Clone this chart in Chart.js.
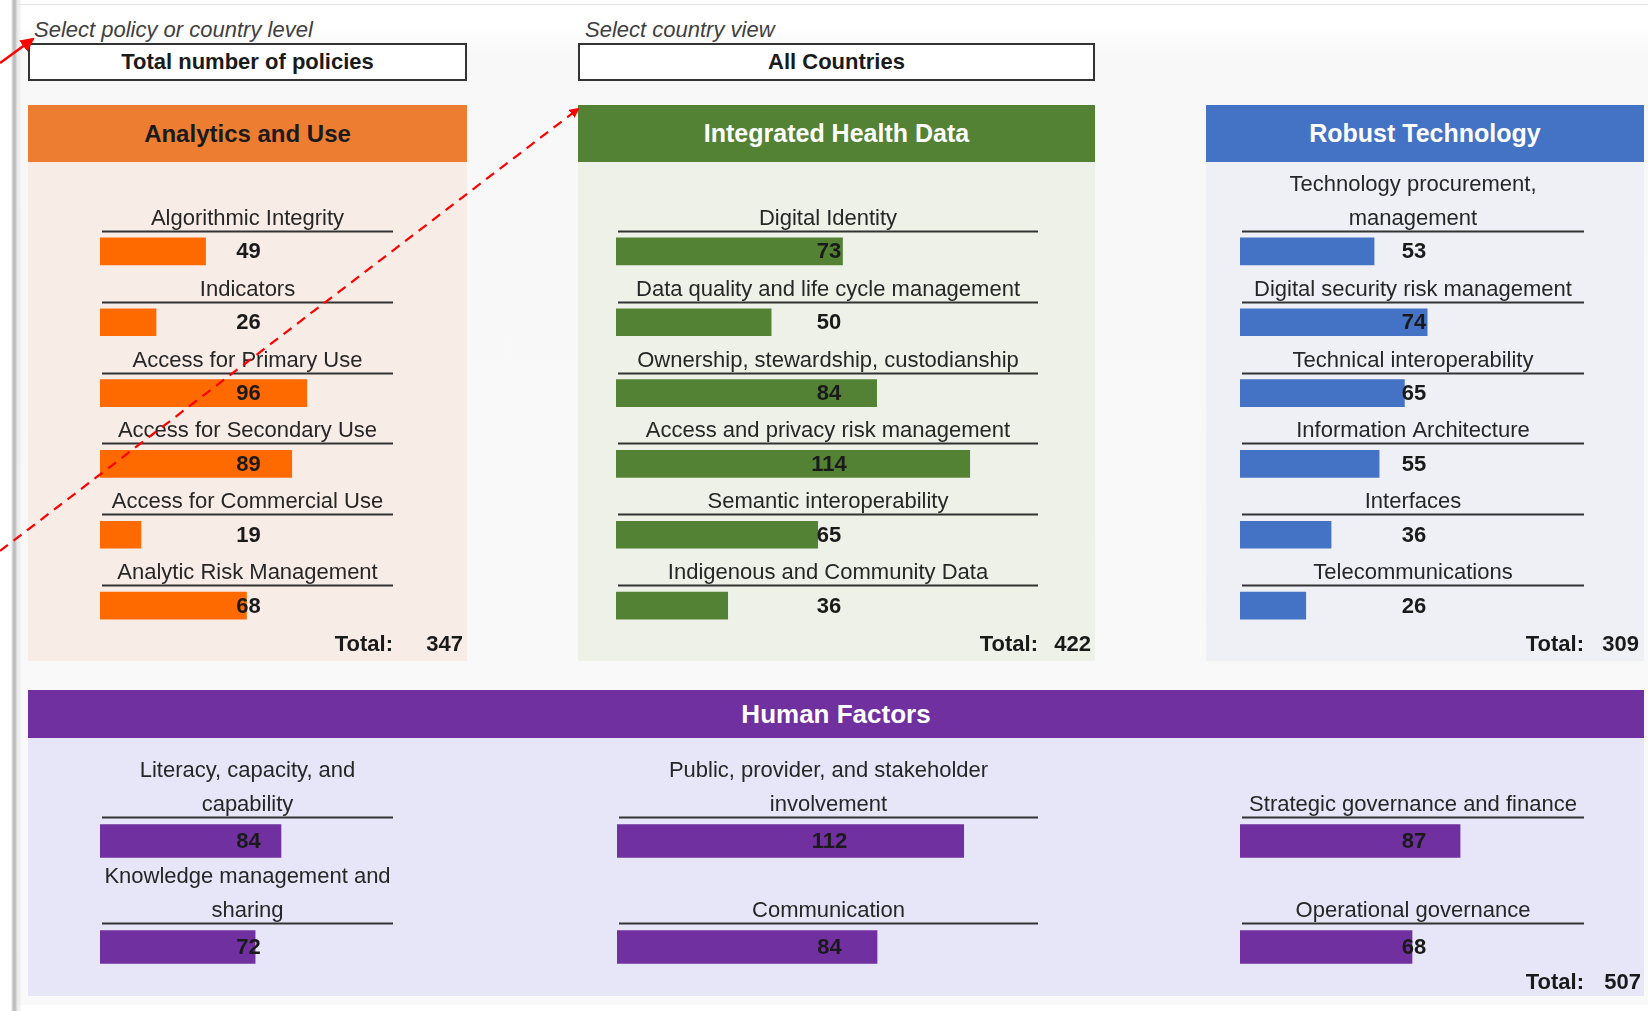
<!DOCTYPE html>
<html>
<head>
<meta charset="utf-8">
<script src="https://cdn.jsdelivr.net/npm/chart.js@4.4.1/dist/chart.umd.min.js"></script>
<style>
  body { margin: 0; width: 1652px; height: 1011px; background: #fff; position: relative; overflow: hidden;
         font-family: "Liberation Sans", Arial, sans-serif; color: #1a1a1a; }
  .abs { position: absolute; }
  .sheet { left: 16px; top: 4px; width: 1632px; height: 1000px; border-top: 1px solid #e4e4e4;
           background: linear-gradient(#ffffff 0px, #ffffff 22px, #f8f8f8 48px, #f9f9f9 100%); }
  .edge { left: 0; top: 0; width: 22px; height: 1011px;
          background: linear-gradient(90deg, #fff 0px, #fff 11px, #c4c4c4 13px, #b8b8b8 15px, #e6e6e6 17px, rgba(255,255,255,0) 22px); }
  .hint { font-style: italic; font-size: 22px; color: #404040; }
  .box { border: 2px solid #333; background: #fff; font-weight: bold; font-size: 22px; text-align: center;
         box-sizing: border-box; line-height: 34px; }
  .head { font-weight: bold; text-align: center; box-sizing: border-box; }
  .total { font-weight: bold; font-size: 22px; line-height: 26px; }
  canvas { position: absolute; }
</style>
</head>
<body>
<div class="abs sheet"></div>
<div class="abs edge"></div>

<div class="abs hint" style="left:34px; top:17px;">Select policy or country level</div>
<div class="abs hint" style="left:585px; top:17px;">Select country view</div>
<div class="abs box" style="left:28px; top:43px; width:439px; height:38px;">Total number of policies</div>
<div class="abs box" style="left:578px; top:43px; width:517px; height:38px;">All Countries</div>

<!-- panel backgrounds -->
<div class="abs" style="left:28px; top:162px; width:439px; height:499px; background:#f8ece6;"></div>
<div class="abs" style="left:578px; top:162px; width:517px; height:499px; background:#edf1e8;"></div>
<div class="abs" style="left:1206px; top:162px; width:438px; height:499px; background:#eef0f6;"></div>
<div class="abs" style="left:28px; top:738px; width:1616px; height:258px; background:#e6e6f8;"></div>

<div class="abs head" style="left:28px; top:105px; width:439px; height:57px; background:#ed7d31; color:#1a1a1a; font-size:24px; line-height:57px;">Analytics and Use</div>
<div class="abs head" style="left:578px; top:105px; width:517px; height:57px; background:#548235; color:#fff; font-size:25px; line-height:57px;">Integrated Health Data</div>
<div class="abs head" style="left:1206px; top:105px; width:438px; height:57px; background:#4472c4; color:#fff; font-size:25px; line-height:57px;">Robust Technology</div>
<div class="abs head" style="left:28px; top:690px; width:1616px; height:48px; background:#7030a0; color:#fff; font-size:26px; line-height:48px;">Human Factors</div>

<canvas id="cAnalytics" width="439" height="498" style="left:28px; top:162px;"></canvas>
<canvas id="cHealth" width="517" height="498" style="left:578px; top:162px;"></canvas>
<canvas id="cTech" width="438" height="498" style="left:1206px; top:162px;"></canvas>
<canvas id="cHumanLeft" width="439" height="262" style="left:28px; top:738px;"></canvas>
<canvas id="cHumanMid" width="517" height="262" style="left:578px; top:738px;"></canvas>
<canvas id="cHumanRight" width="438" height="262" style="left:1206px; top:738px;"></canvas>

<div id="totals"></div>

<svg class="abs" style="left:0; top:0;" width="1652" height="1011">
  <defs>
    <marker id="head" markerWidth="10" markerHeight="10" refX="8" refY="5" orient="auto" markerUnits="userSpaceOnUse">
      <path d="M0,0 L10,5 L0,10 z" fill="#ff0000"/>
    </marker>
    <marker id="head2" markerWidth="14" markerHeight="14" refX="12" refY="7" orient="auto" markerUnits="userSpaceOnUse">
      <path d="M0,0 L14,7 L0,14 z" fill="#ff0000"/>
    </marker>
  </defs>
  <line x1="0" y1="63" x2="33" y2="39" stroke="#ff0000" stroke-width="2.5" marker-end="url(#head2)"/>
  <line x1="0" y1="551" x2="578" y2="109" stroke="#ff0000" stroke-width="2.2" stroke-dasharray="10 7" marker-end="url(#head)"/>
</svg>

<script>
// Category names and counts
const analyticsLabels = ['Algorithmic Integrity', 'Indicators', 'Access for Primary Use',
    'Access for Secondary Use', 'Access for Commercial Use', 'Analytic Risk Management'];
const analyticsValues = [49, 26, 96, 89, 19, 68];

const healthLabels = ['Digital Identity', 'Data quality and life cycle management',
    'Ownership, stewardship, custodianship', 'Access and privacy risk management',
    'Semantic interoperability', 'Indigenous and Community Data'];
const healthValues = [73, 50, 84, 114, 65, 36];

const techLabels = [['Technology procurement,', 'management'], 'Digital security risk management',
    'Technical interoperability', 'Information Architecture', 'Interfaces', 'Telecommunications'];
const techValues = [53, 74, 65, 55, 36, 26];

const humanLeftLabels = [['Literacy, capacity, and', 'capability'], ['Knowledge management and', 'sharing']];
const humanLeftValues = [84, 72];
const humanMidLabels = [['Public, provider, and stakeholder', 'involvement'], 'Communication'];
const humanMidValues = [112, 84];
const humanRightLabels = ['Strategic governance and finance', 'Operational governance'];
const humanRightValues = [87, 68];

const axisMax = 136;

// draws the centred label + underline above each bar and the count on top of it
const rowText = {
    id: 'rowText',
    afterDatasetsDraw(chart, args, opts) {
        const ctx = chart.ctx;
        const area = chart.chartArea;
        const cx = (area.left + area.right) / 2;
        const meta = chart.getDatasetMeta(0);
        ctx.save();
        ctx.textAlign = 'center';
        ctx.textBaseline = 'middle';
        meta.data.forEach((bar, i) => {
            const yLine = Math.round(bar.y - opts.underline) + 0.5;
            ctx.strokeStyle = '#333';
            ctx.lineWidth = 2;
            ctx.beginPath();
            ctx.moveTo(area.left + 2, yLine);
            ctx.lineTo(area.right, yLine);
            ctx.stroke();

            const lab = chart.data.labels[i];
            const lines = Array.isArray(lab) ? lab : [lab];
            ctx.fillStyle = '#262626';
            ctx.font = '22px "Liberation Sans", Arial, sans-serif';
            lines.slice().reverse().forEach((t, k) => {
                ctx.fillText(t, cx + 1, yLine - 13 - k * 34);
            });

            ctx.fillStyle = '#1a1a1a';
            ctx.font = 'bold 22px "Liberation Sans", Arial, sans-serif';
            ctx.fillText(String(chart.data.datasets[0].data[i]), cx + 2, bar.y + 1);
        });
        ctx.restore();
    }
};

function drawPanel(id, labels, values, color, padding, thickness, underline) {
    return new Chart(document.getElementById(id), {
        type: 'bar',
        data: {
            labels: labels,
            datasets: [{
                data: values,
                backgroundColor: color,
                borderWidth: 0,
                barThickness: thickness
            }]
        },
        options: {
            indexAxis: 'y',
            responsive: false,
            animation: false,
            layout: { padding: padding },
            plugins: {
                legend: { display: false },
                tooltip: { enabled: false },
                rowText: { underline: underline }
            },
            scales: {
                x: { display: false, min: 0, max: axisMax },
                y: { display: false }
            }
        },
        plugins: [rowText]
    });
}

drawPanel('cAnalytics', analyticsLabels, analyticsValues, '#ff6a00',
    { left: 72, right: 74, top: 54, bottom: 19 }, 27, 20.5);
drawPanel('cHealth', healthLabels, healthValues, '#548235',
    { left: 38, right: 57, top: 54, bottom: 19 }, 27, 20.5);
drawPanel('cTech', techLabels, techValues, '#4472c4',
    { left: 34, right: 60, top: 54, bottom: 19 }, 27, 20.5);

drawPanel('cHumanLeft', humanLeftLabels, humanLeftValues, '#7030a0',
    { left: 72, right: 74, top: 50, bottom: 0 }, 33, 24);
drawPanel('cHumanMid', humanMidLabels, humanMidValues, '#7030a0',
    { left: 39, right: 57, top: 50, bottom: 0 }, 33, 24);
drawPanel('cHumanRight', humanRightLabels, humanRightValues, '#7030a0',
    { left: 34, right: 60, top: 50, bottom: 0 }, 33, 24);

// "Total:" rows, summed from the arrays
const sum = arr => arr.reduce((a, b) => a + b, 0);
const totals = [
    { y: 631, labelRight: 393, valueRight: 463, value: sum(analyticsValues) },
    { y: 631, labelRight: 1038, valueRight: 1091, value: sum(healthValues) },
    { y: 631, labelRight: 1584, valueRight: 1639, value: sum(techValues) },
    { y: 969, labelRight: 1584, valueRight: 1641,
      value: sum(humanLeftValues) + sum(humanMidValues) + sum(humanRightValues) }
];
const totalsBox = document.getElementById('totals');
totals.forEach(t => {
    totalsBox.innerHTML += `
        <div class="abs total" style="left:${t.labelRight - 120}px; top:${t.y}px; width:120px; text-align:right;">Total:</div>
        <div class="abs total" style="left:${t.valueRight - 60}px; top:${t.y}px; width:60px; text-align:right;">${t.value}</div>`;
});
</script>
</body>
</html>
